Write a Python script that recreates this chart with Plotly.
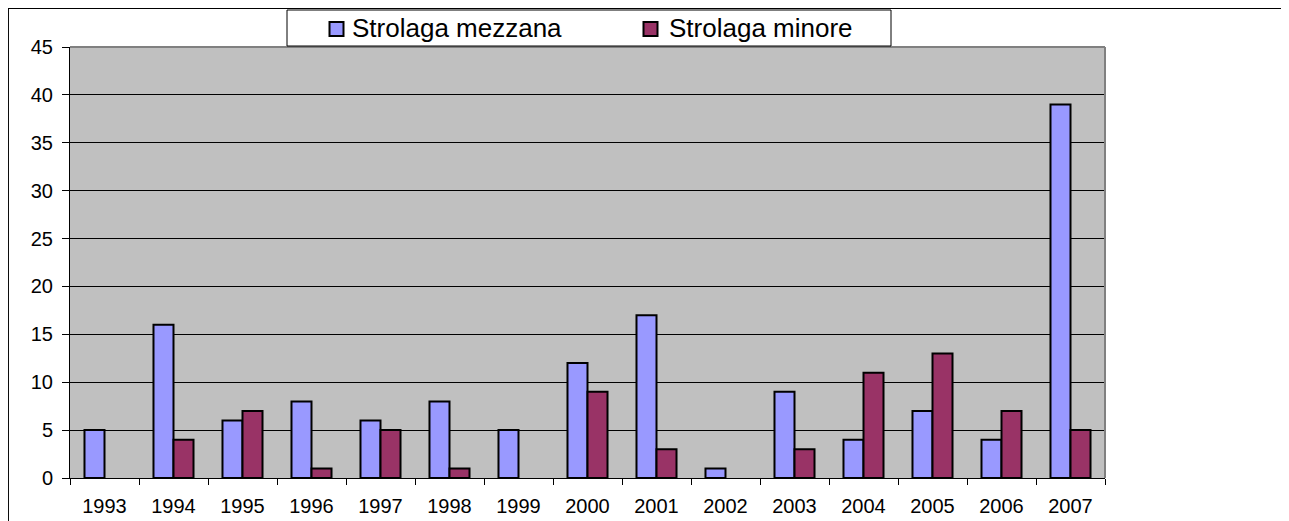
import plotly.graph_objects as go

years = ["1993", "1994", "1995", "1996", "1997", "1998", "1999", "2000",
         "2001", "2002", "2003", "2004", "2005", "2006", "2007"]
mezzana = [5, 16, 6, 8, 6, 8, 5, 12, 17, 1, 9, 4, 7, 4, 39]
minore = [None, 4, 7, 1, 5, 1, None, 9, 3, None, 3, 11, 13, 7, 5]
y_ticks = [0, 5, 10, 15, 20, 25, 30, 35, 40, 45]
series_names = ["Strolaga mezzana", "Strolaga minore"]
series_colors = ["#9999FF", "#993366"]

FONT = "Liberation Sans, Arial, sans-serif"
W, H = 1289, 521
OFF = 8                      # page body margin
L, T = 62, 39
pw, ph = 1035, 431
R, B = W - L - pw, H - T - ph


def fx(page_x):
    return (page_x - OFF - L) / pw


def fy(page_y):
    return 1 - (page_y - OFF - T) / ph


fig = go.Figure()
for name, vals, col in zip(series_names, [mezzana, minore], series_colors):
    fig.add_trace(go.Bar(x=years, y=vals, name=name,
                         marker=dict(color=col, line=dict(color="black", width=2))))

shapes = [
    # plot area border (top and right), gray
    dict(type="line", xref="paper", yref="paper", x0=0, x1=1, y0=1, y1=1,
         line=dict(color="#808080", width=2), layer="above"),
    dict(type="line", xref="paper", yref="paper", x0=1, x1=1, y0=0, y1=1,
         line=dict(color="#808080", width=2), layer="above"),
    # outer chart frame
    dict(type="rect", xref="paper", yref="paper",
         x0=fx(8.2), x1=fx(1500), y0=fy(700), y1=fy(8.2),
         line=dict(color="black", width=1.5), layer="below"),
    # legend box
    dict(type="rect", xref="paper", yref="paper",
         x0=fx(287), x1=fx(891), y0=fy(46), y1=fy(10),
         fillcolor="white", line=dict(color="black", width=1), layer="above"),
]
annotations = []
legend_sq_x = [329.5, 643.5]
legend_tx_x = [351.5, 668.5]
for name, col, sx, tx in zip(series_names, series_colors, legend_sq_x, legend_tx_x):
    shapes.append(dict(type="rect", xref="paper", yref="paper",
                       x0=fx(sx), x1=fx(sx + 14), y0=fy(36), y1=fy(22),
                       fillcolor=col, line=dict(color="black", width=2), layer="above"))
    annotations.append(dict(text=name, xref="paper", yref="paper",
                            x=fx(tx), y=fy(28.5), xanchor="left", yanchor="middle",
                            showarrow=False, borderpad=0, borderwidth=0,
                            font=dict(family=FONT, size=26, color="black")))

fig.update_layout(
    width=W, height=H,
    margin=dict(l=L, r=R, t=T, b=B),
    paper_bgcolor="white",
    plot_bgcolor="#C0C0C0",
    barmode="group",
    bargap=0.42,
    bargroupgap=0,
    font=dict(family=FONT, size=20, color="black"),
    showlegend=False,
    xaxis=dict(
        type="category",
        showline=True, linecolor="black", linewidth=1,
        ticks="outside", ticklen=6, tickcolor="black", tickwidth=1,
        tickson="boundaries",
        showgrid=False,
        ticklabelstandoff=10,
        tickfont=dict(size=20),
    ),
    yaxis=dict(
        range=[0, 45],
        tickvals=y_ticks,
        showline=True, linecolor="black", linewidth=1,
        ticks="outside", ticklen=7, tickcolor="black", tickwidth=1,
        showgrid=True, gridcolor="black", gridwidth=1,
        zeroline=False,
        ticklabelstandoff=5,
        tickfont=dict(size=20),
    ),
    shapes=shapes,
    annotations=annotations,
)

fig.write_html("out.html")
